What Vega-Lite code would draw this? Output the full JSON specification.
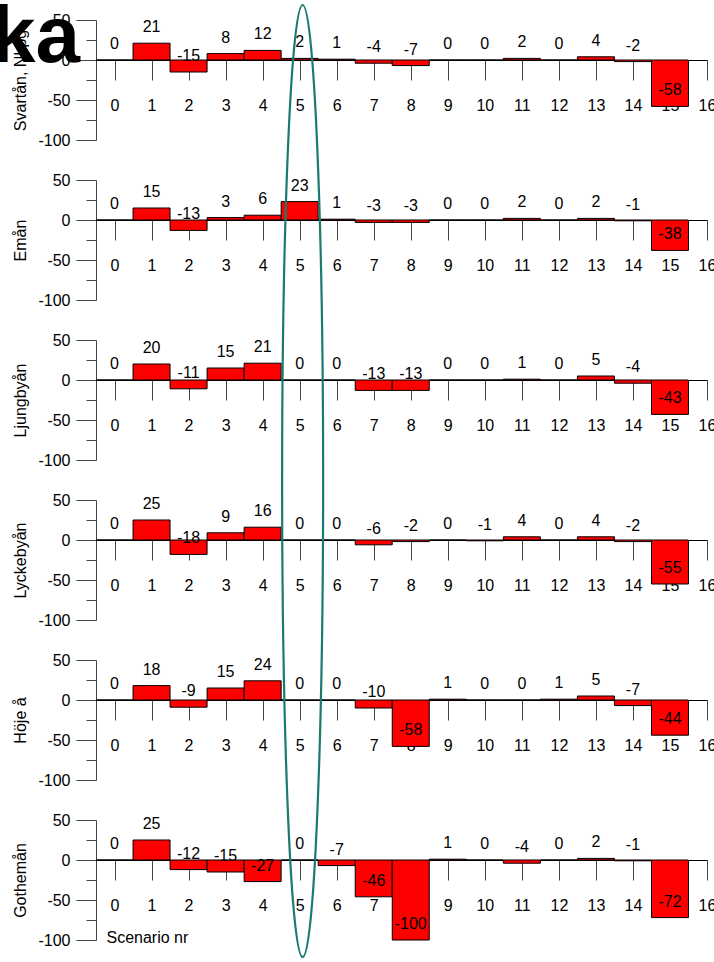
{
  "$schema": "https://vega.github.io/schema/vega-lite/v6.json",
  "autosize": {"type": "none"},
  "padding": {"left": 96, "top": 20, "right": 618, "bottom": 942},
  "bounds": "flush",
  "spacing": 40,
  "config": {
    "font": "Liberation Sans",
    "view": {"stroke": null},
    "scale": {"continuousPadding": 0},
    "axis": {"grid": false, "labelFont": "Liberation Sans", "labelFontSize": 16, "labelColor": "#000000", "titleFont": "Liberation Sans", "titleFontSize": 16, "titleFontWeight": "normal", "titleColor": "#000000", "tickColor": "#444444", "domainColor": "#444444", "labelOverlap": false, "labelFlush": false, "labelBound": false},
    "axisX": {"offset": -80, "tickSize": 20, "labelPadding": 25, "labelBaseline": "middle", "labelAngle": 0, "domainColor": "#000000", "labelOverlap": false}
  },
  "datasets": {
    "bars": [
      {"river": "Svartån", "scenario": 0, "value": 0}, {"river": "Svartån", "scenario": 1, "value": 21}, {"river": "Svartån", "scenario": 2, "value": -15}, {"river": "Svartån", "scenario": 3, "value": 8}, {"river": "Svartån", "scenario": 4, "value": 12}, {"river": "Svartån", "scenario": 5, "value": 2}, {"river": "Svartån", "scenario": 6, "value": 1}, {"river": "Svartån", "scenario": 7, "value": -4}, {"river": "Svartån", "scenario": 8, "value": -7}, {"river": "Svartån", "scenario": 9, "value": 0}, {"river": "Svartån", "scenario": 10, "value": 0}, {"river": "Svartån", "scenario": 11, "value": 2}, {"river": "Svartån", "scenario": 12, "value": 0}, {"river": "Svartån", "scenario": 13, "value": 4}, {"river": "Svartån", "scenario": 14, "value": -2}, {"river": "Svartån", "scenario": 15, "value": -58},
      {"river": "Emån", "scenario": 0, "value": 0}, {"river": "Emån", "scenario": 1, "value": 15}, {"river": "Emån", "scenario": 2, "value": -13}, {"river": "Emån", "scenario": 3, "value": 3}, {"river": "Emån", "scenario": 4, "value": 6}, {"river": "Emån", "scenario": 5, "value": 23}, {"river": "Emån", "scenario": 6, "value": 1}, {"river": "Emån", "scenario": 7, "value": -3}, {"river": "Emån", "scenario": 8, "value": -3}, {"river": "Emån", "scenario": 9, "value": 0}, {"river": "Emån", "scenario": 10, "value": 0}, {"river": "Emån", "scenario": 11, "value": 2}, {"river": "Emån", "scenario": 12, "value": 0}, {"river": "Emån", "scenario": 13, "value": 2}, {"river": "Emån", "scenario": 14, "value": -1}, {"river": "Emån", "scenario": 15, "value": -38},
      {"river": "Ljungbyån", "scenario": 0, "value": 0}, {"river": "Ljungbyån", "scenario": 1, "value": 20}, {"river": "Ljungbyån", "scenario": 2, "value": -11}, {"river": "Ljungbyån", "scenario": 3, "value": 15}, {"river": "Ljungbyån", "scenario": 4, "value": 21}, {"river": "Ljungbyån", "scenario": 5, "value": 0}, {"river": "Ljungbyån", "scenario": 6, "value": 0}, {"river": "Ljungbyån", "scenario": 7, "value": -13}, {"river": "Ljungbyån", "scenario": 8, "value": -13}, {"river": "Ljungbyån", "scenario": 9, "value": 0}, {"river": "Ljungbyån", "scenario": 10, "value": 0}, {"river": "Ljungbyån", "scenario": 11, "value": 1}, {"river": "Ljungbyån", "scenario": 12, "value": 0}, {"river": "Ljungbyån", "scenario": 13, "value": 5}, {"river": "Ljungbyån", "scenario": 14, "value": -4}, {"river": "Ljungbyån", "scenario": 15, "value": -43},
      {"river": "Lyckebyån", "scenario": 0, "value": 0}, {"river": "Lyckebyån", "scenario": 1, "value": 25}, {"river": "Lyckebyån", "scenario": 2, "value": -18}, {"river": "Lyckebyån", "scenario": 3, "value": 9}, {"river": "Lyckebyån", "scenario": 4, "value": 16}, {"river": "Lyckebyån", "scenario": 5, "value": 0}, {"river": "Lyckebyån", "scenario": 6, "value": 0}, {"river": "Lyckebyån", "scenario": 7, "value": -6}, {"river": "Lyckebyån", "scenario": 8, "value": -2}, {"river": "Lyckebyån", "scenario": 9, "value": 0}, {"river": "Lyckebyån", "scenario": 10, "value": -1}, {"river": "Lyckebyån", "scenario": 11, "value": 4}, {"river": "Lyckebyån", "scenario": 12, "value": 0}, {"river": "Lyckebyån", "scenario": 13, "value": 4}, {"river": "Lyckebyån", "scenario": 14, "value": -2}, {"river": "Lyckebyån", "scenario": 15, "value": -55},
      {"river": "Höje å", "scenario": 0, "value": 0}, {"river": "Höje å", "scenario": 1, "value": 18}, {"river": "Höje å", "scenario": 2, "value": -9}, {"river": "Höje å", "scenario": 3, "value": 15}, {"river": "Höje å", "scenario": 4, "value": 24}, {"river": "Höje å", "scenario": 5, "value": 0}, {"river": "Höje å", "scenario": 6, "value": 0}, {"river": "Höje å", "scenario": 7, "value": -10}, {"river": "Höje å", "scenario": 8, "value": -58}, {"river": "Höje å", "scenario": 9, "value": 1}, {"river": "Höje å", "scenario": 10, "value": 0}, {"river": "Höje å", "scenario": 11, "value": 0}, {"river": "Höje å", "scenario": 12, "value": 1}, {"river": "Höje å", "scenario": 13, "value": 5}, {"river": "Höje å", "scenario": 14, "value": -7}, {"river": "Höje å", "scenario": 15, "value": -44},
      {"river": "Gothemån", "scenario": 0, "value": 0}, {"river": "Gothemån", "scenario": 1, "value": 25}, {"river": "Gothemån", "scenario": 2, "value": -12}, {"river": "Gothemån", "scenario": 3, "value": -15}, {"river": "Gothemån", "scenario": 4, "value": -27}, {"river": "Gothemån", "scenario": 5, "value": 0}, {"river": "Gothemån", "scenario": 6, "value": -7}, {"river": "Gothemån", "scenario": 7, "value": -46}, {"river": "Gothemån", "scenario": 8, "value": -100}, {"river": "Gothemån", "scenario": 9, "value": 1}, {"river": "Gothemån", "scenario": 10, "value": 0}, {"river": "Gothemån", "scenario": 11, "value": -4}, {"river": "Gothemån", "scenario": 12, "value": 0}, {"river": "Gothemån", "scenario": 13, "value": 2}, {"river": "Gothemån", "scenario": 14, "value": -1}, {"river": "Gothemån", "scenario": 15, "value": -72}
    ],
    "notes": [{"label": "ka", "scenario": -0.93, "value": -2.5}],
    "ring": [{"scenario": 5.08, "value": 473.75}]
  },
  "vconcat": [
    {
      "width": 611, "height": 120,
      "layer": [
        {"data": {"name": "bars"}, "transform": [{"filter": "datum.river === 'Svartån'"}],
         "mark": {"type": "bar", "width": 37, "fill": "#ff0000", "stroke": "#000000", "strokeWidth": 1},
         "encoding": {
           "x": {"field": "scenario", "type": "quantitative", "scale": {"domain": [-0.5, 16], "nice": false, "zero": false, "padding": 0}, "axis": {"values": [0,1,2,3,4,5,6,7,8,9,10,11,12,13,14,15,16], "tickCount": 100, "labelExpr": "'' + datum.value", "title": null, "labelOverlap": false}},
           "y": {"field": "value", "type": "quantitative", "scale": {"domain": [-100, 50], "nice": false}, "axis": {"title": "Svartån, Nkpg", "values": [50,25,0,-25,-50,-75,-100], "tickCount": 100, "labelOverlap": false, "labelExpr": "datum.value % 50 === 0 ? '' + datum.value : ''", "tickSize": {"condition": {"test": "datum.value % 50 === 0", "value": 20}, "value": 10}, "labelPadding": 6, "titleX": -71, "titleBaseline": "alphabetic", "titleAngle": -90}}
         }},
        {"data": {"name": "bars"}, "transform": [{"filter": "datum.river === 'Svartån'"}],
         "mark": {"type": "text", "dy": -16, "fontSize": 16, "baseline": "middle", "color": "#000000"},
         "encoding": {"x": {"field": "scenario", "type": "quantitative"}, "y": {"field": "value", "type": "quantitative"}, "text": {"field": "value", "type": "nominal"}}},
        {"data": {"name": "notes"},
         "mark": {"type": "text", "align": "right", "baseline": "alphabetic", "fontSize": 80, "fontWeight": "bold", "color": "#000000"},
         "encoding": {"x": {"field": "scenario", "type": "quantitative"}, "y": {"field": "value", "type": "quantitative"}, "text": {"field": "label", "type": "nominal"}}}
      ]
    },
    {
      "width": 611, "height": 120,
      "layer": [
        {"data": {"name": "bars"}, "transform": [{"filter": "datum.river === 'Emån'"}],
         "mark": {"type": "bar", "width": 37, "fill": "#ff0000", "stroke": "#000000", "strokeWidth": 1},
         "encoding": {
           "x": {"field": "scenario", "type": "quantitative", "scale": {"domain": [-0.5, 16], "nice": false, "zero": false, "padding": 0}, "axis": {"values": [0,1,2,3,4,5,6,7,8,9,10,11,12,13,14,15,16], "tickCount": 100, "labelExpr": "'' + datum.value", "title": null, "labelOverlap": false}},
           "y": {"field": "value", "type": "quantitative", "scale": {"domain": [-100, 50], "nice": false}, "axis": {"title": "Emån", "values": [50,25,0,-25,-50,-75,-100], "tickCount": 100, "labelOverlap": false, "labelExpr": "datum.value % 50 === 0 ? '' + datum.value : ''", "tickSize": {"condition": {"test": "datum.value % 50 === 0", "value": 20}, "value": 10}, "labelPadding": 6, "titleX": -71, "titleBaseline": "alphabetic", "titleAngle": -90}}
         }},
        {"data": {"name": "bars"}, "transform": [{"filter": "datum.river === 'Emån'"}],
         "mark": {"type": "text", "dy": -16, "fontSize": 16, "baseline": "middle", "color": "#000000"},
         "encoding": {"x": {"field": "scenario", "type": "quantitative"}, "y": {"field": "value", "type": "quantitative"}, "text": {"field": "value", "type": "nominal"}}}
      ]
    },
    {
      "width": 611, "height": 120,
      "layer": [
        {"data": {"name": "bars"}, "transform": [{"filter": "datum.river === 'Ljungbyån'"}],
         "mark": {"type": "bar", "width": 37, "fill": "#ff0000", "stroke": "#000000", "strokeWidth": 1},
         "encoding": {
           "x": {"field": "scenario", "type": "quantitative", "scale": {"domain": [-0.5, 16], "nice": false, "zero": false, "padding": 0}, "axis": {"values": [0,1,2,3,4,5,6,7,8,9,10,11,12,13,14,15,16], "tickCount": 100, "labelExpr": "'' + datum.value", "title": null, "labelOverlap": false}},
           "y": {"field": "value", "type": "quantitative", "scale": {"domain": [-100, 50], "nice": false}, "axis": {"title": "Ljungbyån", "values": [50,25,0,-25,-50,-75,-100], "tickCount": 100, "labelOverlap": false, "labelExpr": "datum.value % 50 === 0 ? '' + datum.value : ''", "tickSize": {"condition": {"test": "datum.value % 50 === 0", "value": 20}, "value": 10}, "labelPadding": 6, "titleX": -71, "titleBaseline": "alphabetic", "titleAngle": -90}}
         }},
        {"data": {"name": "bars"}, "transform": [{"filter": "datum.river === 'Ljungbyån'"}],
         "mark": {"type": "text", "dy": -16, "fontSize": 16, "baseline": "middle", "color": "#000000"},
         "encoding": {"x": {"field": "scenario", "type": "quantitative"}, "y": {"field": "value", "type": "quantitative"}, "text": {"field": "value", "type": "nominal"}}}
      ]
    },
    {
      "width": 611, "height": 120,
      "layer": [
        {"data": {"name": "bars"}, "transform": [{"filter": "datum.river === 'Lyckebyån'"}],
         "mark": {"type": "bar", "width": 37, "fill": "#ff0000", "stroke": "#000000", "strokeWidth": 1},
         "encoding": {
           "x": {"field": "scenario", "type": "quantitative", "scale": {"domain": [-0.5, 16], "nice": false, "zero": false, "padding": 0}, "axis": {"values": [0,1,2,3,4,5,6,7,8,9,10,11,12,13,14,15,16], "tickCount": 100, "labelExpr": "'' + datum.value", "title": null, "labelOverlap": false}},
           "y": {"field": "value", "type": "quantitative", "scale": {"domain": [-100, 50], "nice": false}, "axis": {"title": "Lyckebyån", "values": [50,25,0,-25,-50,-75,-100], "tickCount": 100, "labelOverlap": false, "labelExpr": "datum.value % 50 === 0 ? '' + datum.value : ''", "tickSize": {"condition": {"test": "datum.value % 50 === 0", "value": 20}, "value": 10}, "labelPadding": 6, "titleX": -71, "titleBaseline": "alphabetic", "titleAngle": -90}}
         }},
        {"data": {"name": "bars"}, "transform": [{"filter": "datum.river === 'Lyckebyån'"}],
         "mark": {"type": "text", "dy": -16, "fontSize": 16, "baseline": "middle", "color": "#000000"},
         "encoding": {"x": {"field": "scenario", "type": "quantitative"}, "y": {"field": "value", "type": "quantitative"}, "text": {"field": "value", "type": "nominal"}}}
      ]
    },
    {
      "width": 611, "height": 120,
      "layer": [
        {"data": {"name": "bars"}, "transform": [{"filter": "datum.river === 'Höje å'"}],
         "mark": {"type": "bar", "width": 37, "fill": "#ff0000", "stroke": "#000000", "strokeWidth": 1},
         "encoding": {
           "x": {"field": "scenario", "type": "quantitative", "scale": {"domain": [-0.5, 16], "nice": false, "zero": false, "padding": 0}, "axis": {"values": [0,1,2,3,4,5,6,7,8,9,10,11,12,13,14,15,16], "tickCount": 100, "labelExpr": "'' + datum.value", "title": null, "labelOverlap": false}},
           "y": {"field": "value", "type": "quantitative", "scale": {"domain": [-100, 50], "nice": false}, "axis": {"title": "Höje å", "values": [50,25,0,-25,-50,-75,-100], "tickCount": 100, "labelOverlap": false, "labelExpr": "datum.value % 50 === 0 ? '' + datum.value : ''", "tickSize": {"condition": {"test": "datum.value % 50 === 0", "value": 20}, "value": 10}, "labelPadding": 6, "titleX": -71, "titleBaseline": "alphabetic", "titleAngle": -90}}
         }},
        {"data": {"name": "bars"}, "transform": [{"filter": "datum.river === 'Höje å'"}],
         "mark": {"type": "text", "dy": -16, "fontSize": 16, "baseline": "middle", "color": "#000000"},
         "encoding": {"x": {"field": "scenario", "type": "quantitative"}, "y": {"field": "value", "type": "quantitative"}, "text": {"field": "value", "type": "nominal"}}}
      ]
    },
    {
      "width": 611, "height": 120,
      "layer": [
        {"data": {"name": "bars"}, "transform": [{"filter": "datum.river === 'Gothemån'"}],
         "mark": {"type": "bar", "width": 37, "fill": "#ff0000", "stroke": "#000000", "strokeWidth": 1},
         "encoding": {
           "x": {"field": "scenario", "type": "quantitative", "scale": {"domain": [-0.5, 16], "nice": false, "zero": false, "padding": 0}, "axis": {"values": [0,1,2,3,4,5,6,7,8,9,10,11,12,13,14,15,16], "tickCount": 100, "labelExpr": "'' + datum.value", "labelOverlap": false, "title": "Scenario nr", "titleX": 10, "titleY": 82, "titleAlign": "left", "titleBaseline": "alphabetic"}},
           "y": {"field": "value", "type": "quantitative", "scale": {"domain": [-100, 50], "nice": false}, "axis": {"title": "Gothemån", "values": [50,25,0,-25,-50,-75,-100], "tickCount": 100, "labelOverlap": false, "labelExpr": "datum.value % 50 === 0 ? '' + datum.value : ''", "tickSize": {"condition": {"test": "datum.value % 50 === 0", "value": 20}, "value": 10}, "labelPadding": 6, "titleX": -71, "titleBaseline": "alphabetic", "titleAngle": -90}}
         }},
        {"data": {"name": "bars"}, "transform": [{"filter": "datum.river === 'Gothemån'"}],
         "mark": {"type": "text", "dy": -16, "fontSize": 16, "baseline": "middle", "color": "#000000"},
         "encoding": {"x": {"field": "scenario", "type": "quantitative"}, "y": {"field": "value", "type": "quantitative"}, "text": {"field": "value", "type": "nominal"}}},
        {"data": {"name": "ring"},
         "mark": {"type": "point", "shape": "M0,-1A0.0431,1,0,1,1,0,1A0.0431,1,0,1,1,0,-1Z", "size": 906304, "filled": false, "stroke": "#1b7a70", "strokeWidth": 2.2, "opacity": 1},
         "encoding": {"x": {"field": "scenario", "type": "quantitative"}, "y": {"field": "value", "type": "quantitative"}}}
      ]
    }
  ]
}
